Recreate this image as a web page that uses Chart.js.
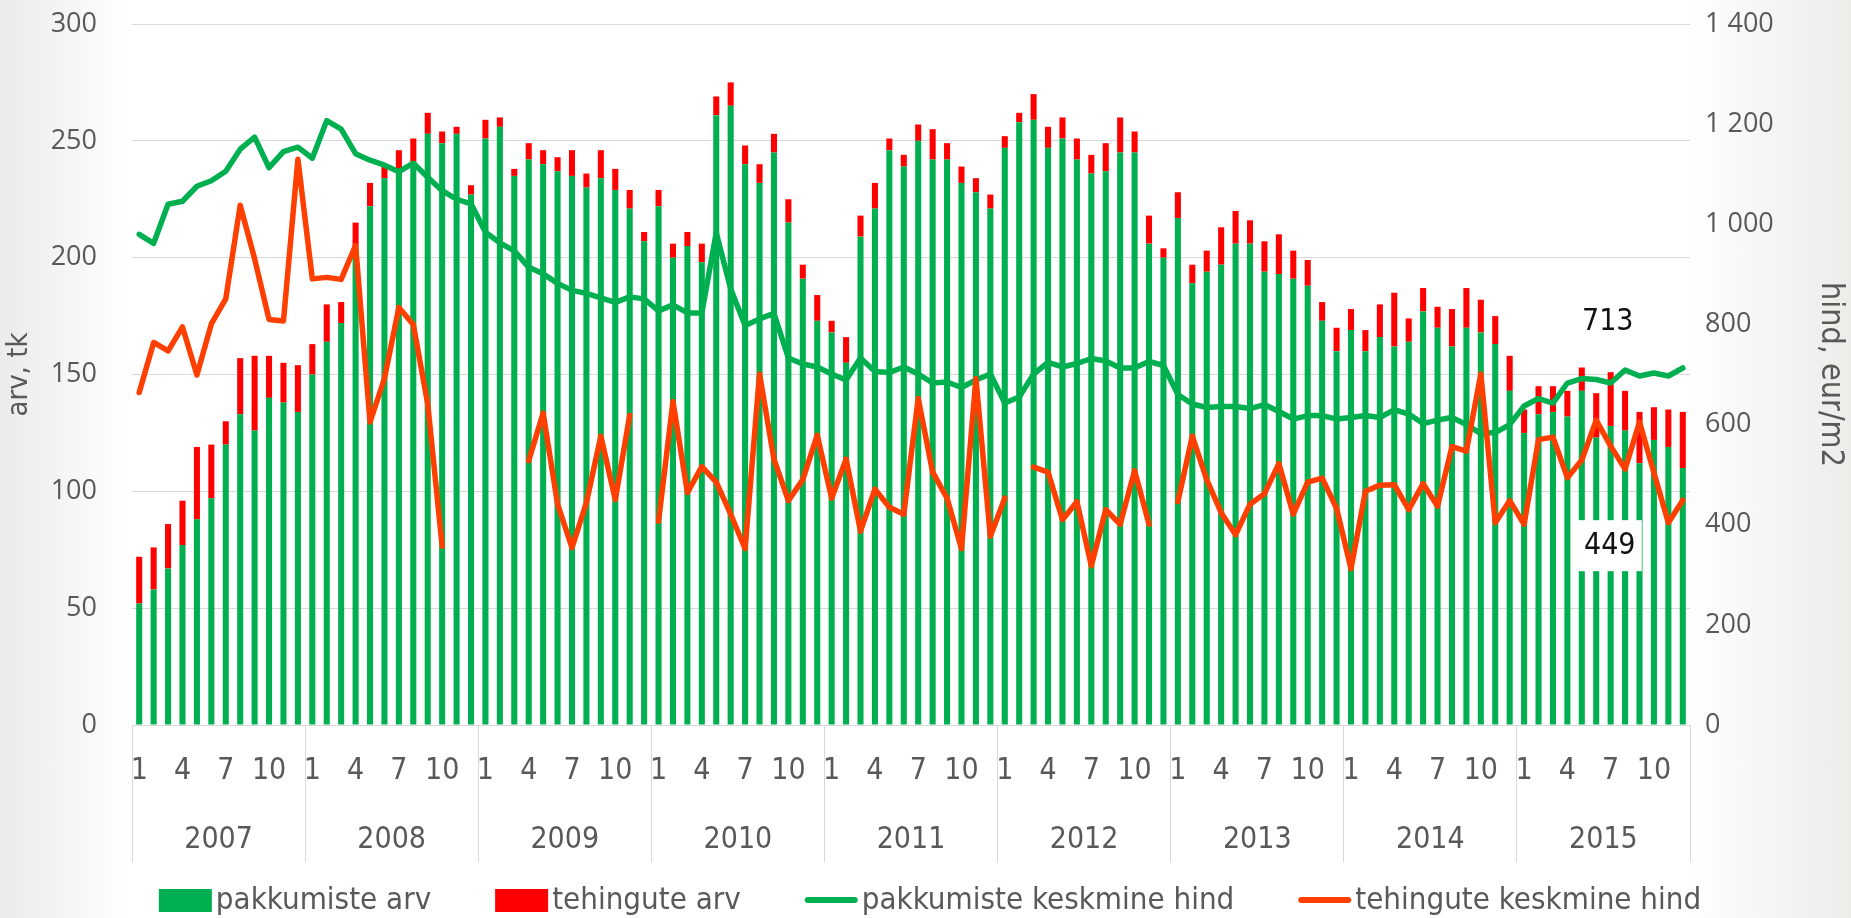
<!DOCTYPE html>
<html>
<head>
<meta charset="utf-8">
<title>pakkumised ja tehingud</title>
<script src="https://cdn.jsdelivr.net/npm/chart.js@4.4.1/dist/chart.umd.min.js"></script>
<style>
  html, body { margin: 0; padding: 0; }
  body {
    width: 1851px; height: 918px; overflow: hidden;
    background: linear-gradient(to right, #ebebea 0%, #ffffff 7%, #ffffff 91%, #ecece9 100%);
  }
</style>
</head>
<body>
<canvas id="chart" width="1851" height="918"></canvas>
<script>
// --- andmed ---
const years  = ['2007','2008','2009','2010','2011','2012','2013','2014','2015'];
const months = ['1','2','3','4','5','6','7','8','9','10','11','12'];
const shownMonths = ['1','4','7','10'];

// pakkumiste arv (tk)
const pakkumisteArv = [
  52, 58, 67, 77, 88, 97,120,133,126,140,138,134,
 150,164,172,205,222,234,237,241,253,249,253,227,
 251,256,235,242,240,237,235,230,234,229,221,207,
 222,200,205,198,261,265,240,232,245,215,191,173,
 168,155,209,221,246,239,250,242,242,232,228,221,
 247,258,259,247,251,242,236,237,245,245,206,200,
 217,189,194,197,206,206,194,193,191,188,173,160,
 169,160,166,162,164,177,170,162,170,168,163,143,
 125,133,134,132,143,123,128,126,112,122,119,110
];
// tehingute arv (tk)
const tehinguteArv = [
  20, 18, 19, 19, 31, 23, 10, 24, 32, 18, 17, 20,
  13, 16,  9, 10, 10,  5,  9, 10,  9,  5,  3,  4,
   8,  4,  3,  7,  6,  6, 11,  6, 12,  9,  8,  4,
   7,  6,  6,  8,  8, 10,  8,  8,  8, 10,  6, 11,
   5, 11,  9, 11,  5,  5,  7, 13,  7,  7,  6,  6,
   5,  4, 11,  9,  9,  9,  8, 12, 15,  9, 12,  4,
  11,  8,  9, 16, 14, 10, 13, 17, 12, 11,  8, 10,
   9,  9, 14, 23, 10, 10,  9, 16, 17, 14, 12, 15,
  10, 12, 11, 11, 10, 19, 23, 17, 22, 14, 16, 24
];
// pakkumiste keskmine hind (eur/m2)
const pakkumisteHind = [
  980, 962,1040,1046,1076,1087,1106,1150,1174,1113,1145,1154,
 1132,1207,1190,1141,1128,1118,1105,1122,1094,1067,1050,1041,
  984, 963, 947, 914, 901, 882, 868, 862, 853, 844, 855, 851,
  827, 839, 823, 823, 983, 871, 798, 811, 822, 733, 721, 715,
  701, 689, 733, 706, 704, 715, 701, 683, 685, 674, 689, 701,
  643, 655, 701, 724, 715, 722, 732, 727, 713, 713, 726, 718,
  660, 641, 634, 636, 636, 632, 640, 626, 611, 618, 618, 611,
  614, 618, 614, 630, 621, 602, 609, 614, 600, 582, 584, 600,
  637, 652, 643, 683, 692, 690, 683, 709, 697, 703, 697, 713
];
// tehingute keskmine hind (eur/m2), puuduvad kuud = null
const tehinguteHind = [
  664, 764, 747, 795, 699, 801, 851,1038, 931, 810, 807,1130,
  891, 894, 890, 958, 605, 692, 834, 800, 641, 357,null,null,
 null,null,null, 528, 623, 441, 354, 444, 577, 450, 618,null,
  407, 646, 464, 516, 485, 421, 352, 701, 531, 448, 490, 579,
  453, 531, 387, 471, 435, 421, 652, 505, 453, 352, 692, 377,
  453,null, 515, 505, 410, 446, 318, 430, 401, 508, 401,null,
  446, 577, 490, 424, 380, 441, 462, 522, 421, 485, 493, 433,
  312, 467, 479, 480, 430, 482, 437, 556, 547, 701, 404, 448,
  401, 570, 575, 494, 529, 609, 557, 511, 605, 504, 404, 449
];

const labels = years.flatMap(() => months);

const FONT_N = "'DejaVu Sans Condensed','Liberation Sans Narrow',sans-serif";
const FONT_A = "'Open Sans','DejaVu Sans',sans-serif";
const TXT  = '#595959';
const GRID = '#D9D9D9';
const GREEN = '#00B050';
const RED   = '#FF0000';
const RED_L = '#FF3F00';

// viimase punkti väärtused graafiku paremas servas
const endLabels = {
  id: 'endLabels',
  afterDatasetsDraw(chart){
    const ctx = chart.ctx;
    const spec = [
      { ds: 2, dx: -75, dy: -46, box: false },
      { ds: 3, dx: -73, dy: 46,  box: true  },
    ];
    for (const s of spec){
      const meta = chart.getDatasetMeta(s.ds);
      const data = chart.data.datasets[s.ds].data;
      const pt = meta.data[data.length - 1];
      if (!pt) continue;
      const x = pt.x + s.dx, y = pt.y + s.dy;
      ctx.save();
      if (s.box){
        ctx.fillStyle = '#ffffff';
        ctx.fillRect(x - 32, y - 26, 64, 51);
      }
      ctx.font = '30px ' + FONT_N;
      ctx.fillStyle = '#111111';
      ctx.textAlign = 'center';
      ctx.textBaseline = 'middle';
      ctx.fillText(String(data[data.length - 1]), x, y);
      ctx.restore();
    }
  }
};

// legend all: Exceli moodi tihe sümbol+tekst, laiemad vahed
const bottomLegend = {
  id: 'bottomLegend',
  afterDraw(chart){
    const ctx = chart.ctx;
    const SYM = 53, GAP_T = 4, GAP_I = 64, CX = 930, Y = 900;
    ctx.save();
    ctx.font = '31px ' + FONT_N;
    const items = chart.data.datasets.map(ds => ({ ds, w: ctx.measureText(ds.label).width }));
    const total = items.reduce((s, it) => s + SYM + GAP_T + it.w, 0) + GAP_I * (items.length - 1);
    let x = CX - total / 2;
    for (const it of items){
      if (it.ds.type === 'line'){
        ctx.strokeStyle = it.ds.borderColor; ctx.lineWidth = 6; ctx.lineCap = 'round';
        ctx.beginPath(); ctx.moveTo(x + 3, Y); ctx.lineTo(x + SYM - 3, Y); ctx.stroke();
      } else {
        ctx.fillStyle = it.ds.backgroundColor;
        ctx.fillRect(x, Y - 11, SYM, 23);
      }
      ctx.fillStyle = TXT; ctx.textAlign = 'left'; ctx.textBaseline = 'middle';
      ctx.fillText(it.ds.label, x + SYM + GAP_T, Y + 1);
      x += SYM + GAP_T + it.w + GAP_I;
    }
    ctx.restore();
  }
};

const fmtThousands = v => v >= 1000 ? Math.floor(v/1000) + ' ' + String(v % 1000).padStart(3,'0') : String(v);

// y-telgede sildid ei tohi joonise ülaserva alla lükata
function fixWidth(w){
  return s => { s.width = w; s.paddingTop = 0; s.paddingBottom = 0; };
}

new Chart(document.getElementById('chart').getContext('2d'), {
  type: 'bar',
  data: {
    labels,
    datasets: [
      { type:'bar', label:'pakkumiste arv', data: pakkumisteArv, backgroundColor: GREEN,
        yAxisID:'y', stack:'arv', order:2, barPercentage:0.42, categoryPercentage:1, borderWidth:0 },
      { type:'bar', label:'tehingute arv', data: tehinguteArv, backgroundColor: RED,
        yAxisID:'y', stack:'arv', order:2, barPercentage:0.42, categoryPercentage:1, borderWidth:0 },
      { type:'line', label:'pakkumiste keskmine hind', data: pakkumisteHind, yAxisID:'y1', order:1,
        borderColor: GREEN, backgroundColor: GREEN, borderWidth:5.5, pointRadius:0, tension:0,
        spanGaps:false, borderJoinStyle:'round', borderCapStyle:'round' },
      { type:'line', label:'tehingute keskmine hind', data: tehinguteHind, yAxisID:'y1', order:0,
        borderColor: RED_L, backgroundColor: RED_L, borderWidth:5.5, pointRadius:0, tension:0,
        spanGaps:false, borderJoinStyle:'round', borderCapStyle:'round' },
    ]
  },
  options: {
    responsive: false,
    animation: false,
    layout: { padding: { top: 24, left: 0, right: 0, bottom: 0 } },
    plugins: {
      tooltip: { enabled: false },
      legend: { display: false }
    },
    scales: {
      x: {
        type: 'category', stacked: true, offset: true,
        grid: {
          display: true, drawOnChartArea: false, drawTicks: true, tickLength: 137, offset: true,
          color: c => (c.index === undefined || c.index % 12 === 0) ? GRID : 'rgba(0,0,0,0)'
        },
        border: { display: true, color: GRID },
        ticks: {
          autoSkip: false, maxRotation: 0, padding: -109, color: TXT,
          font: { family: FONT_N, size: 30 },
          callback: (v, i) => shownMonths.includes(labels[i]) ? labels[i] : ''
        },
        afterFit(s){ s.height = 67; }
      },
      x2: {
        type: 'category', labels: years, position: 'bottom', offset: true,
        grid: { display: false, drawTicks: false },
        border: { display: false },
        ticks: { padding: 30, color: TXT, font: { family: FONT_N, size: 30 } },
        afterFit(s){ s.height = 126; }
      },
      y: {
        position: 'left', stacked: true, min: 0, max: 300,
        ticks: { stepSize: 50, padding: 35, color: TXT, font: { family: FONT_A, size: 27 } },
        grid: { color: GRID, drawTicks: false },
        border: { display: false },
        title: { display: true, text: 'arv, tk', color: TXT,
                 font: { family: FONT_N, size: 29 }, padding: { top: 2, bottom: 0 } },
        afterFit: fixWidth(132)
      },
      y1: {
        position: 'right', min: 0, max: 1400,
        ticks: { stepSize: 200, padding: 15, color: TXT, font: { family: FONT_A, size: 27 },
                 callback: v => fmtThousands(v) },
        grid: { display: false, drawTicks: false },
        border: { display: false },
        title: { display: true, text: 'hind, eur/m2', color: TXT,
                 font: { family: FONT_N, size: 32 }, padding: { top: 1, bottom: 0 } },
        afterFit: fixWidth(161)
      }
    }
  },
  plugins: [endLabels, bottomLegend]
});
</script>
</body>
</html>
